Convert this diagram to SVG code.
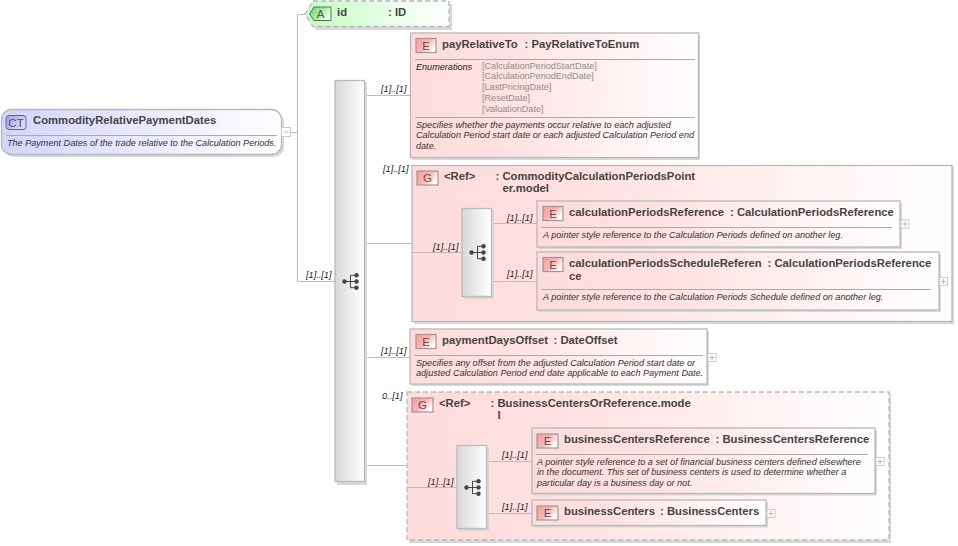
<svg xmlns="http://www.w3.org/2000/svg" width="958" height="546" viewBox="0 0 958 546">
<style>
text{font-family:"Liberation Sans",Arial,sans-serif;fill:#333}
.t{font-size:11.3px;font-weight:bold;fill:#444}
.d{font-size:9.1px;font-style:italic;fill:#333}
.c{font-size:9.2px;font-style:italic;fill:#222}
.en{font-size:9.1px;fill:#8c8c8c}
.ic{font-size:11.5px;fill:#555;text-anchor:middle}
.box{stroke:#b8b8b8;stroke-width:1.3}
.sh{fill:#d8d8d8}
.sep{stroke:#aaa;stroke-width:1;fill:none}
.seq{fill:url(#gs);stroke:#bbb;stroke-width:1.3}
.icE{fill:url(#gi);stroke:#999;stroke-width:1.2}
.l{stroke:#bbb;stroke-width:1;fill:none}
.pm{fill:#fff;stroke:#ccc;stroke-width:1}
.pl{stroke:#bbb;stroke-width:1;fill:none}
.dash{stroke-dasharray:5 3}
</style>
<defs>
<linearGradient id="gct" x1="0" x2="1" y1="0" y2="0"><stop offset="0" stop-color="#d4d4ff"/><stop offset="1" stop-color="#fff"/></linearGradient>
<linearGradient id="ga" x1="0" x2="1" y1="0" y2="0"><stop offset="0" stop-color="#c4fcc4"/><stop offset="1" stop-color="#fff"/></linearGradient>
<linearGradient id="ge" x1="0" x2="1" y1="0" y2="0"><stop offset="0" stop-color="#ffdcdc"/><stop offset="0.3" stop-color="#ffe0e0"/><stop offset="1" stop-color="#fff"/></linearGradient>
<linearGradient id="gs" x1="0" x2="1" y1="0" y2="0"><stop offset="0" stop-color="#d8d8d8"/><stop offset="1" stop-color="#fff"/></linearGradient>
<linearGradient id="gi" x1="0" x2="1" y1="0" y2="0.6"><stop offset="0" stop-color="#f89c9c"/><stop offset="0.55" stop-color="#fcb4b4"/><stop offset="1" stop-color="#fff"/></linearGradient>
<linearGradient id="gia" x1="0" x2="1" y1="0" y2="0.5"><stop offset="0" stop-color="#70d870"/><stop offset="0.6" stop-color="#a0f0a0"/><stop offset="1" stop-color="#f4fff4"/></linearGradient>
<linearGradient id="gic" x1="0" x2="1" y1="0" y2="0.5"><stop offset="0" stop-color="#9c9cf4"/><stop offset="1" stop-color="#dcdcff"/></linearGradient>
<g id="tree"><g fill="#444" stroke="none"><circle cx="-6" cy="0" r="2.2"/><circle cx="6" cy="-6.2" r="2.2"/><circle cx="6" cy="0" r="2.2"/><circle cx="6" cy="6.2" r="2.2"/></g><path d="M-6 0H6M0 -6.200V6.200M0 -6.200H6M0 6.200H6" stroke="#444" stroke-width="1" fill="none"/></g>
<g id="plus"><rect class="pm" x="0.500" y="0.500" width="8" height="8"/><path class="pl" d="M2 4.500H7M4.500 2V7"/></g>
</defs>

<g id="n-type">
<rect class="sh" x="4" y="112" width="280" height="45" rx="10"/>
<rect class="box" fill="url(#gct)" x="1.500" y="109.500" width="280" height="45" rx="10"/>
<rect x="6" y="115.500" width="20" height="14" rx="3" fill="url(#gic)" stroke="#666"/>
<text class="ic" x="16" y="127">CT</text>
<text class="t" x="33" y="124">CommodityRelativePaymentDates</text>
<path class="sep" d="M6 135.500H277"/>
<text class="d" x="7" y="146">The Payment Dates of the trade relative to the Calculation Periods.</text>
<rect class="pm" x="281.500" y="127.500" width="9" height="9"/><path class="pl" d="M283.500 132H288.500"/>
</g>

<g id="n-id">
<path class="sh" d="M316 4H452V30H316L308 17Z"/>
<path class="box dash" fill="url(#ga)" d="M313 1H449V26.500H313L305 14Z"/>
<path d="M314 7H331V20.500H314L309.500 14Z" fill="url(#gia)" stroke="#666"/>
<text class="ic" x="320.500" y="18">A</text>
<text class="t" x="337" y="16">id</text>
<text class="t" x="388" y="16">: ID</text>
</g>

<g id="n-group1">
<rect class="sh" x="414" y="167" width="540" height="157"/>
<rect class="box" fill="url(#ge)" x="412" y="165.500" width="540" height="156"/>
<rect class="icE" x="417" y="171" width="21" height="14"/>
<text class="ic" x="427.500" y="182">G</text>
<text class="t" x="444" y="180">&lt;Ref&gt;</text>
<text class="t" x="495.500" y="180">: CommodityCalculationPeriodsPoint</text>
<text class="t" x="502.500" y="192">er.model</text>
</g>

<g id="n-group2">
<rect class="sh" x="409" y="394" width="482" height="149"/>
<rect class="box dash" fill="url(#ge)" x="407" y="392" width="482" height="148"/>
<rect class="icE" x="412" y="398" width="21" height="14"/>
<text class="ic" x="422.500" y="409">G</text>
<text class="t" x="439" y="407">&lt;Ref&gt;</text>
<text class="t" x="490.500" y="407">: BusinessCentersOrReference.mode</text>
<text class="t" x="497.500" y="419">l</text>
</g>

<g id="connectors">
<path class="l" d="M290.500 132.500H297.500M297.500 14.500V281.500M297.500 14.500H306M297.500 281.500H335"/>
<path class="l" d="M364 95.500H410M364 243.500H412M364 357.500H410M364 465.500H407"/>
<path class="l" d="M412 252.500H462M492 223.500H537M492 281.500H537"/>
<path class="l" d="M407 487.500H457M487 461.500H532M487 513.500H532"/>
</g>

<g id="n-seq1">
<rect class="sh" x="337" y="82" width="30" height="403"/>
<rect class="seq" x="335" y="80.500" width="29.500" height="401"/>
<use href="#tree" x="350.500" y="281.500"/>
</g>
<text class="c" x="381" y="92">[1]..[1]</text>
<text class="c" x="383" y="172">[1]..[1]</text>
<text class="c" x="306" y="278">[1]..[1]</text>
<text class="c" x="381" y="354">[1]..[1]</text>
<text class="c" x="382" y="399">0..[1]</text>

<g id="n-payRelativeTo">
<rect class="sh" x="412" y="35" width="288" height="125"/>
<rect class="box" fill="url(#ge)" x="410.500" y="33" width="288" height="124.500"/>
<rect class="icE" x="416" y="38.500" width="20" height="14"/>
<text class="ic" x="426" y="50">E</text>
<text class="t" x="442" y="48">payRelativeTo</text>
<text class="t" x="524.500" y="48">: PayRelativeToEnum</text>
<path class="sep" d="M415 59.500H695"/>
<text class="d" x="416" y="70" style="fill:#222">Enumerations</text>
<text class="en" x="482" y="69">[CalculationPeriodStartDate]</text>
<text class="en" x="482" y="79">[CalculationPeriodEndDate]</text>
<text class="en" x="482" y="90">[LastPricingDate]</text>
<text class="en" x="482" y="101">[ResetDate]</text>
<text class="en" x="482" y="112">[ValuationDate]</text>
<path class="sep" d="M415 117.500H695"/>
<text class="d" x="416" y="128">Specifies whether the payments occur relative to each adjusted</text>
<text class="d" x="416" y="138">Calculation Period start date or each adjusted Calculation Period end</text>
<text class="d" x="416" y="149">date.</text>
</g>

<g id="n-seq2">
<rect class="sh" x="464" y="210" width="30" height="89"/>
<rect class="seq" x="462" y="208.500" width="29.500" height="88"/>
<use href="#tree" x="477.500" y="252.500"/>
</g>
<text class="c" x="433" y="250">[1]..[1]</text>
<text class="c" x="507" y="221">[1]..[1]</text>
<text class="c" x="507" y="277">[1]..[1]</text>

<g id="n-calcRef">
<rect class="sh" x="539" y="203" width="363" height="46"/>
<rect class="box" fill="url(#ge)" x="537" y="201" width="363" height="46"/>
<rect class="icE" x="543" y="206.500" width="20" height="14"/>
<text class="ic" x="553" y="218">E</text>
<text class="t" x="569" y="216">calculationPeriodsReference</text>
<text class="t" x="730" y="216">: CalculationPeriodsReference</text>
<path class="sep" d="M541 227.500H892"/>
<text class="d" x="543" y="238">A pointer style reference to the Calculation Periods defined on another leg.</text>
<use href="#plus" x="900.500" y="219.500"/>
</g>

<g id="n-calcSched">
<rect class="sh" x="539" y="254" width="402" height="58"/>
<rect class="box" fill="url(#ge)" x="537" y="252" width="402" height="58"/>
<rect class="icE" x="543" y="257.500" width="20" height="14"/>
<text class="ic" x="553" y="269">E</text>
<text class="t" x="569" y="267">calculationPeriodsScheduleReferen</text>
<text class="t" x="569" y="280">ce</text>
<text class="t" x="767.500" y="267">: CalculationPeriodsReference</text>
<path class="sep" d="M541 289.500H931"/>
<text class="d" x="543" y="300">A pointer style reference to the Calculation Periods Schedule defined on another leg.</text>
<use href="#plus" x="939" y="277"/>
</g>

<g id="n-paymentDaysOffset">
<rect class="sh" x="412" y="331" width="297" height="55"/>
<rect class="box" fill="url(#ge)" x="410" y="329" width="297" height="55"/>
<rect class="icE" x="416" y="334.500" width="20" height="14"/>
<text class="ic" x="426" y="346">E</text>
<text class="t" x="442" y="344">paymentDaysOffset</text>
<text class="t" x="553.500" y="344">: DateOffset</text>
<path class="sep" d="M414 355.500H703"/>
<text class="d" x="416" y="366">Specifies any offset from the adjusted Calculation Period start date or</text>
<text class="d" x="416" y="376">adjusted Calculation Period end date applicable to each Payment Date.</text>
<use href="#plus" x="707.500" y="353"/>
</g>

<g id="n-bcRef">
<rect class="sh" x="534" y="430" width="343" height="65.500"/>
<rect class="box" fill="url(#ge)" x="532" y="428" width="343" height="65.500"/>
<rect class="icE" x="537" y="434" width="21" height="14"/>
<text class="ic" x="547.500" y="445">E</text>
<text class="t" x="564" y="443">businessCentersReference</text>
<text class="t" x="715.500" y="443">: BusinessCentersReference</text>
<path class="sep" d="M536 454.500H868"/>
<text class="d" x="537" y="465">A pointer style reference to a set of financial business centers defined elsewhere</text>
<text class="d" x="537" y="475">in the document. This set of business centers is used to determine whether a</text>
<text class="d" x="537" y="486">particular day is a business day or not.</text>
<use href="#plus" x="875.500" y="457"/>
</g>

<g id="n-bc">
<rect class="sh" x="534" y="502" width="234" height="25.500"/>
<rect class="box" fill="url(#ge)" x="532" y="500" width="234" height="25.500"/>
<rect class="icE" x="537" y="506" width="21" height="14"/>
<text class="ic" x="547.500" y="517">E</text>
<text class="t" x="564" y="515">businessCenters</text>
<text class="t" x="660" y="515">: BusinessCenters</text>
<use href="#plus" x="766.500" y="509"/>
</g>
<g id="n-seq3">
<rect class="sh" x="459" y="447" width="30" height="84"/>
<rect class="seq" x="457" y="445.500" width="29.500" height="83"/>
<use href="#tree" x="472.500" y="487.500"/>
</g>
<text class="c" x="428" y="485">[1]..[1]</text>
<text class="c" x="502" y="458">[1]..[1]</text>
<text class="c" x="502" y="510">[1]..[1]</text>
</svg>
